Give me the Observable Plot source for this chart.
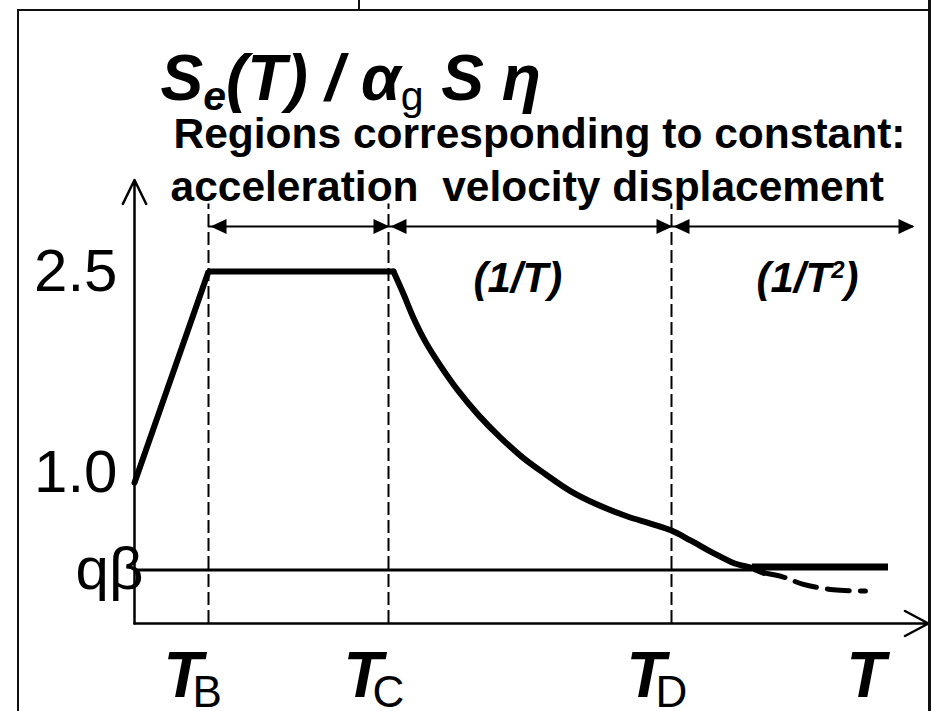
<!DOCTYPE html>
<html>
<head>
<meta charset="utf-8">
<script src="https://cdn.jsdelivr.net/npm/d3@7"></script>
<script src="https://cdn.jsdelivr.net/npm/@observablehq/plot@0.6"></script>
<style>
  body { margin: 0; background: #fff; }
  #wrap { position: relative; width: 932px; height: 711px; overflow: hidden; background: #fff; }
  #wrap svg { position: absolute; left: 0; top: 0; }
  .frame { position: absolute; left: 17px; top: 9px; width: 914px; height: 720px; box-sizing: border-box;
           border-left: 2px solid #111; border-top: 2px solid #111; border-right: 3px solid #111; }
  .tab { position: absolute; left: 358px; top: -10px; width: 573px; height: 21px; box-sizing: border-box;
         border-left: 2px solid #111; border-right: 3px solid #111; }
</style>
</head>
<body>
<div id="wrap"><div class="tab"></div><div class="frame"></div></div>
<script>
// Elastic response spectrum, normalised ordinate Se(T) / (ag S η), schematic.

// Corner periods (arbitrary period units) and their subscripts
const periodNames = ["B", "C", "D"];
const periodValues = [0.74, 2.54, 5.37];

// Spectrum branch: linear rise, plateau, then the decaying branch
const spectrumT = [0, 0.74, 2.59];
const spectrumS = [1.0, 2.5, 2.5];
const decayT = [2.59, 2.69, 2.79, 2.91, 3.06, 3.24, 3.44, 3.66, 3.88, 4.11, 4.36, 4.61, 4.93, 5.16, 5.37, 5.56, 5.79, 5.99, 6.19, 6.29];
const decayS = [2.5, 2.34, 2.17, 2.00, 1.83, 1.65, 1.48, 1.32, 1.18, 1.06, 0.94, 0.85, 0.76, 0.71, 0.66, 0.59, 0.50, 0.43, 0.39, 0.36];
// Continuation below the lower bound (dashed)
const tailT = [6.29, 6.49, 6.68, 6.99, 7.31];
const tailS = [0.36, 0.33, 0.28, 0.24, 0.23];

// Lower bound qβ and the period range where it governs
const qBeta = 0.38;
const floorT = [6.18, 7.54];

// Axis tick labels
const yTickValues = [2.5, 1.0];
const yTickLabels = ["2.5", "1.0"];
const qBetaLabel = "qβ";
const xAxisLabel = "T";

// Regions of constant acceleration / velocity / displacement
const regionNames = ["acceleration", "velocity", "displacement"];
const regionStart = [0.74, 2.54, 5.37];
const regionEnd = [2.54, 5.37, 7.79];
const regionLaws = ["", "(1/T)", "(1/T2)"];

const titleText = "Se(T) / αg S η";
const subtitleText = "Regions corresponding to constant:";

// Axis extents and annotation level
const axisTopS = 3.15;
const axisEndT = 7.94;
const regionArrowS = 2.82;
const cornerLineTopS = 2.98;

const spectrum = spectrumT.map((t, i) => ({t, s: spectrumS[i]}));
const decay = decayT.map((t, i) => ({t, s: decayS[i]}));
const tail = tailT.map((t, i) => ({t, s: tailS[i]}));
const yTicks = yTickValues.map((v, i) => ({v, label: yTickLabels[i]}));
const periods = periodValues.map((v, i) => ({v, name: periodNames[i], label: "T" + periodNames[i]}));
const regions = regionNames.map((name, i) => ({name, start: regionStart[i], end: regionEnd[i], law: regionLaws[i]}));

// Filled arrowheads with the tip at the anchor point
const headRight = {draw(ctx, size) { const L = Math.sqrt(size / Math.PI); ctx.moveTo(0, 0); ctx.lineTo(-L, -0.47 * L); ctx.lineTo(-L, 0.47 * L); ctx.closePath(); }};
const headLeft = {draw(ctx, size) { const L = Math.sqrt(size / Math.PI); ctx.moveTo(0, 0); ctx.lineTo(L, -0.47 * L); ctx.lineTo(L, 0.47 * L); ctx.closePath(); }};

const font = "'Liberation Sans', Arial, sans-serif";

const chart = Plot.plot({
  width: 932,
  height: 711,
  margin: 0,
  x: {domain: [0, 8], range: [134, 934], axis: null},
  y: {domain: [0, 2.5], range: [623, 271], axis: null},
  style: {fontFamily: font, background: "transparent", color: "black", overflow: "visible"},
  marks: [
    // corner periods
    Plot.ruleX(periods, {x: "v", y1: 0, y2: cornerLineTopS, stroke: "black", strokeWidth: 2, strokeDasharray: "13,5"}),
    // lower bound qβ
    Plot.ruleY([qBeta], {x1: 0, x2: floorT[0], stroke: "black", strokeWidth: 3}),
    Plot.ruleY([qBeta], {x1: floorT[0], x2: floorT[1], dy: -3, stroke: "black", strokeWidth: 7}),
    // axes
    Plot.arrow([0], {x1: 0, y1: 0, x2: 0, y2: axisTopS, stroke: "black", strokeWidth: 2.5, headLength: 16, headAngle: 52}),
    Plot.arrow([0], {x1: 0, y1: 0, x2: axisEndT, y2: 0, stroke: "black", strokeWidth: 2.5, headLength: 16, headAngle: 56}),
    // spectrum
    Plot.line(spectrum, {x: "t", y: "s", stroke: "black", strokeWidth: 6, strokeLinejoin: "miter"}),
    Plot.line(decay, {x: "t", y: "s", stroke: "black", strokeWidth: 6, curve: "catmull-rom"}),
    Plot.line(tail, {x: "t", y: "s", stroke: "black", strokeWidth: 5, strokeDasharray: "22,11", curve: "catmull-rom"}),
    // region extents
    Plot.ruleY(regions, {x1: "start", x2: "end", y: regionArrowS, stroke: "black", strokeWidth: 2}),
    Plot.dot(regions, {x: "start", y: regionArrowS, symbol: headLeft, r: 16, fill: "black", stroke: "none", dx: 2}),
    Plot.dot(regions, {x: "end", y: regionArrowS, symbol: headRight, r: 16, fill: "black", stroke: "none", dx: 1}),
    Plot.text(regions.filter(d => d.law), {x: "start", y: 2.5, text: "law", dx: 85, dy: 20, textAnchor: "start", lineAnchor: "bottom",
      fontSize: 42, fontWeight: "bold", fontStyle: "italic"}),
    // y tick labels
    Plot.text(yTicks.filter(d => d.v === 2.5), {x: 0, y: "v", text: "label", dx: -17, textAnchor: "end", lineAnchor: "middle", fontSize: 60}),
    Plot.text(yTicks.filter(d => d.v === 1.0), {x: 0, y: "v", text: "label", dx: -17, dy: -10, textAnchor: "end", lineAnchor: "middle", fontSize: 60}),
    Plot.text([qBetaLabel], {x: 0, y: qBeta, text: d => d, dx: 9, textAnchor: "end", lineAnchor: "middle", fontSize: 60}),
    // x labels
    Plot.text(periods, {x: "v", y: 0, text: "label", dx: -45, dy: 73, textAnchor: "start", lineAnchor: "bottom",
      fontSize: 64, fontWeight: "bold", fontStyle: "italic"}),
    Plot.text([xAxisLabel], {x: 0, y: 0, text: d => d, dx: 712, dy: 73, textAnchor: "start", lineAnchor: "bottom",
      fontSize: 64, fontWeight: "bold", fontStyle: "italic"}),
    // heading
    Plot.text([titleText], {frameAnchor: "top-left", text: d => d, dx: 160, dy: 99, textAnchor: "start", lineAnchor: "bottom",
      fontSize: 64, fontWeight: "bold", fontStyle: "italic"}),
    Plot.text([subtitleText], {frameAnchor: "top-left", text: d => d, dx: 173, dy: 147, textAnchor: "start", lineAnchor: "bottom",
      fontSize: 42.5, fontWeight: "bold"}),
    Plot.text([`${regionNames[0]}  ${regionNames[1]} ${regionNames[2]}`], {frameAnchor: "top-left", text: d => d, dx: 170, dy: 200,
      textAnchor: "start", lineAnchor: "bottom", fontSize: 42.5, fontWeight: "bold"})
  ]
});

document.getElementById("wrap").prepend(chart);

// Rich text: subscripts and superscripts inside single text elements
const NS = "http://www.w3.org/2000/svg";
function findText(content) {
  return Array.from(chart.querySelectorAll("text")).find(el => el.textContent === content);
}
function setRich(el, parts) {
  if (!el) return;
  el.textContent = "";
  let shift = 0;
  for (const p of parts) {
    const ts = document.createElementNS(NS, "tspan");
    ts.textContent = p.text;
    const target = p.shift || 0;
    if (target !== shift) { ts.setAttribute("dy", target - shift); shift = target; }
    if (p.dx) ts.setAttribute("dx", p.dx);
    if (p.size) ts.setAttribute("font-size", p.size);
    if (p.weight) ts.setAttribute("font-weight", p.weight);
    if (p.style) ts.setAttribute("font-style", p.style);
    el.appendChild(ts);
  }
}
setRich(findText(titleText), [
  {text: "S"},
  {text: "e", size: 41, shift: 10},
  {text: "(T) / α"},
  {text: "g", size: 41, shift: 10, weight: "normal", style: "normal"},
  {text: " S η"}
]);
for (const p of periods) {
  setRich(findText(p.label), [
    {text: "T"},
    {text: p.name, size: 44, shift: 10, dx: -10, weight: "normal", style: "normal"}
  ]);
}
setRich(findText(regionLaws[2]), [
  {text: "(1/T"},
  {text: "2", size: 24, shift: -14},
  {text: ")"}
]);
const namesEl = Array.from(chart.querySelectorAll("text")).find(el => el.textContent.startsWith(regionNames[0]));
if (namesEl) namesEl.style.whiteSpace = "pre";
</script>
</body>
</html>
